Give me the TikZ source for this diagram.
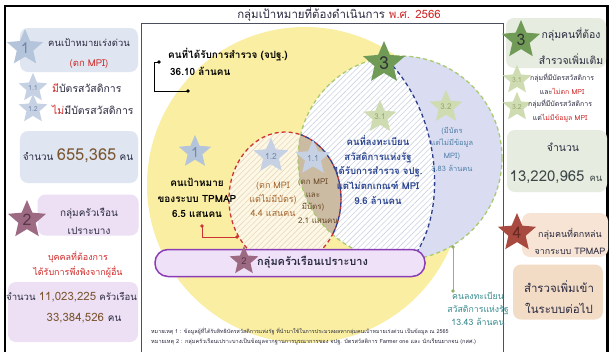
\documentclass[tikz,border=0pt]{standalone}
\usepackage{fontspec}
\setmainfont{Loma}[Script=Thai]
\usetikzlibrary{shapes.geometric,patterns.meta}
\newcommand\myfs[2]{\fontsize{#1}{#2}\selectfont}
\definecolor{yel}{HTML}{FAEEA2}
\definecolor{cream}{HTML}{FDF7E4}
\definecolor{hatchY}{HTML}{E4D9C0}
\definecolor{hatchB}{HTML}{CCD2E2}
\definecolor{lav}{HTML}{DADDF2}
\definecolor{tanc}{HTML}{CBBBA2}
\definecolor{gd}{HTML}{A9CB6E}
\definecolor{nd}{HTML}{2C3E8C}
\definecolor{rd}{HTML}{CC3333}
\definecolor{barfill}{HTML}{EFE1F7}
\definecolor{bardraw}{HTML}{8A3DB4}
\definecolor{framec}{HTML}{4A5060}
\definecolor{tred}{HTML}{D02A2A}
\definecolor{dtext}{HTML}{2A2A40}
\definecolor{navyt}{HTML}{2B4590}
\definecolor{brownt}{HTML}{A8672F}
\definecolor{dbrown}{HTML}{6A4A2A}
\definecolor{bluet}{HTML}{4F7FA8}
\definecolor{tealt}{HTML}{3A8C8F}
\definecolor{numbr}{HTML}{7A5530}
\definecolor{numgr}{HTML}{3D4747}
\definecolor{bluebox}{HTML}{DFE6F1}
\definecolor{lavbox}{HTML}{EDE0F4}
\definecolor{greenbox}{HTML}{E6ECDF}
\definecolor{peach}{HTML}{F7E4D4}
\definecolor{peach2}{HTML}{F3DCC6}
\definecolor{stblue}{HTML}{B4C4DA}
\definecolor{stbluel}{HTML}{C6D2E4}
\definecolor{stbluet}{HTML}{7488AA}
\definecolor{stgreen}{HTML}{709B57}
\definecolor{stgreenl}{HTML}{CFDCB2}
\definecolor{stgreent}{HTML}{98A86E}
\definecolor{stmauve}{HTML}{9D6A84}
\definecolor{stmauvet}{HTML}{5A3848}
\definecolor{stred}{HTML}{A84A40}
\definecolor{stredt}{HTML}{6B2A22}
\tikzset{
  tx/.style={inner sep=0pt, align=center},
  starn/.style={star, star points=5, star point ratio=2.2, inner sep=0pt, minimum size=#1, draw=none},
  boxn/.style={rounded corners=8bp, inner sep=0pt, draw=none},
  dotn/.style={circle, fill, inner sep=0pt, minimum size=3.6bp},
  gdash/.style={draw=gd, dash pattern=on 4bp off 3bp, line width=1.3bp},
  ndash/.style={draw=nd, dash pattern=on 4bp off 3bp, line width=1.3bp},
  rdash/.style={draw=rd, dash pattern=on 4bp off 3bp, line width=1.3bp},
  hatchfill/.style={pattern={Lines[angle=45,distance=4bp,line width=0.6bp]}, pattern color=#1},
}
\begin{document}
\begin{tikzpicture}[x=1bp,y=-1bp]
\useasboundingbox (0,0) rectangle (609,352);
\fill[white] (0,0) rectangle (609,352);

% ---------- frames ----------
\draw[line width=2.2bp] (5,352) -- (5,6) -- (607,6);
\draw[line width=3bp] (607,5) -- (607,352);
\draw[framec, line width=0.8bp] (141,352) -- (141,23) -- (503,23) -- (503,352);

% ---------- title ----------
\node[tx, anchor=east, font=\myfs{11.5}{13}, text=dtext] (title) at (441,14)
  {กลุ่มเป้าหมายที่ต้องดำเนินการ \textcolor{tred}{พ.ศ. 2566}};

% ---------- diagram ----------
\fill[yel] (305,185) circle [radius=158];
\fill[cream] (285,199) ellipse [x radius=56, y radius=67];
\fill[hatchfill=hatchY] (285,199) ellipse [x radius=56, y radius=67];
\fill[white] (400,158) circle [radius=102];
\fill[hatchfill=hatchB] (400,158) circle [radius=102];
\begin{scope}
  \clip (400,158) circle [radius=102];
  \fill[lav] (383,56) .. controls (440,108) and (450,210) .. (412,259) -- (505,262) -- (505,50) -- cycle;
\end{scope}
\begin{scope}
  \clip (285,199) ellipse [x radius=56, y radius=67];
  \fill[tanc] (400,158) circle [radius=102];
\end{scope}
\draw[gdash] (400,158) circle [radius=102];
\draw[ndash] (383,56) .. controls (440,108) and (450,210) .. (412,259);
\draw[rdash] (285,199) ellipse [x radius=56, y radius=67];
\begin{scope}
  \clip (400,158) circle [radius=102];
  \draw[ndash, dash phase=3.5bp] (285,199) ellipse [x radius=56, y radius=67];
\end{scope}

% stars in diagram
\node[starn=34bp, fill=stblue] (s1) at (195,152) {\myfs{14}{14}\color{stbluet}1};
\node[starn=30bp, fill=stbluel] (s12) at (271,156) {\myfs{8.5}{8}\color{stbluet}1.2};
\node[starn=30bp, fill=stbluel] (s11) at (313,158) {\myfs{8.5}{8}\color{stbluet}1.1};
\node[starn=44bp, fill=stgreen] (s3) at (384,63) {\myfs{18}{18}\color{black!80}3};
\node[starn=27bp, fill=stgreenl] (s31) at (380,117) {\myfs{8}{8}\color{stgreent}3.1};
\node[starn=27bp, fill=stgreenl] (s32) at (446,107) {\myfs{8}{8}\color{stgreent}3.2};

% texts in diagram
\node[tx, anchor=west, font=\myfs{10}{11}\bfseries] (t36a) at (168,55) {คนที่ได้รับการสำรวจ (จปฐ.)};
\node[tx, anchor=west, font=\myfs{10}{11}\bfseries] (t36b) at (170,71) {36.10 ล้านคน};
\node[tx, font=\myfs{10}{15.5}\bfseries] (t1) at (197,198) {คนเป้าหมาย\\ของระบบ TPMAP\\6.5 แสนคน};
\node[tx, font=\myfs{9}{14}, text=brownt] (t12) at (273,199) {(ตก MPI\\แต่ไม่มีบัตร)\\4.4 แสนคน};
\node[tx, font=\myfs{8}{12.5}, text=dbrown] (t11) at (313,195) {(ตก MPI\\และ\\มีบัตร)};
\node[tx, font=\myfs{8}{9}, text=dbrown] (t11b) at (318,221) {2.1 แสนคน};
\node[tx, font=\myfs{9.6}{14.8}\bfseries, text=navyt] (t31) at (378,170) {คนที่ลงทะเบียน\\สวัสดิการแห่งรัฐ\\ได้รับการสำรวจ จปฐ.\\แต่ไม่ตกเกณฑ์ MPI\\9.6 ล้านคน};
\node[tx, font=\myfs{7.5}{12.7}, text=bluet] (t32) at (452,149) {(มีบัตร\\แต่ไม่มีข้อมูล\\MPI)\\3.83 ล้านคน};
\node[tx, font=\myfs{8.8}{13.3}, text=tealt] (t13) at (478,309) {คนลงทะเบียน\\สวัสดิการแห่งรัฐ\\13.43 ล้านคน};

% connectors
\node[dotn] (k1) at (159,62) {};
\node[dotn] (k2) at (188,91) {};
\draw[line width=0.8bp] (k1.center) -- ++(-5,0) |- (k2.center);
\node[dotn, fill=rd] (r1) at (202,226) {};
\node[dotn, fill=rd] (r2) at (237,237) {};
\draw[rd, line width=0.9bp] (r1.center) |- (r2.center);
\node[dotn, fill=gd!80!black!90] (g1) at (453,247) {};
\node[dotn, fill=gd!80!black!90] (g2) at (453,291) {};
\draw[gd!90!black, line width=0.9bp] (g1.center) -- (g2.center);

% purple bar
\node[boxn, rounded corners=13bp, minimum width=270bp, minimum height=27bp, fill=barfill, draw=bardraw, line width=1.5bp] (bar) at (290,263) {};
\node[starn=30bp, fill=stmauve] (s2) at (244,261) {\myfs{9.5}{9}\color{stmauvet}2};
\node[tx, anchor=west, font=\myfs{11}{12}\bfseries, text=dtext] (tbar) at (257,262) {กลุ่มครัวเรือนเปราะบาง};

% footnotes
\node[tx, anchor=west, font=\myfs{5.4}{6}, text=dtext] (fn1) at (151,331) {หมายเหตุ 1 : ข้อมูลผู้ที่ได้รับสิทธิบัตรสวัสดิการแห่งรัฐ ที่นำมาใช้ในการประมวลผลหากลุ่มคนเป้าหมายเร่งด่วน เป็นข้อมูล ณ 2565};
\node[tx, anchor=west, font=\myfs{5.6}{6}, text=dtext] (fn2) at (151,342) {หมายเหตุ 2 : กลุ่มครัวเรือนเปราะบางเป็นข้อมูลจากฐานการบูรณาการของ จปฐ. บัตรสวัสดิการ Farmer one และ นักเรียนยากจน (กสศ.)};

% ---------- left panel ----------
\node[boxn, fill=bluebox, minimum width=118bp, minimum height=44bp] (b1) at (79,50) {};
\node[starn=38bp, fill=stblue] (L1) at (25,48) {\myfs{15}{15}\color{stbluet}1};
\node[tx, font=\myfs{9.5}{10}, text=dtext] (b1a) at (89,43) {คนเป้าหมายเร่งด่วน};
\node[tx, font=\myfs{9.5}{10}, text=tred] (b1b) at (89,64) {(ตก MPI)};
\node[starn=23bp, fill=stbluel] (L11) at (33,88) {\myfs{7}{7}\color{stbluet}1.1};
\node[tx, anchor=west, font=\myfs{10.5}{11}, text=dtext] (L11t) at (52,88) {\textcolor{tred}{มี}บัตรสวัสดิการ};
\node[starn=23bp, fill=stbluel] (L12) at (33,109) {\myfs{7}{7}\color{stbluet}1.2};
\node[tx, anchor=west, font=\myfs{10.5}{11}, text=dtext] (L12t) at (52,110) {\textcolor{tred}{ไม่}มีบัตรสวัสดิการ};
\node[boxn, fill=bluebox, minimum width=118bp, minimum height=52bp] (b1n) at (79,157) {};
\node[tx, font=\myfs{10}{10}, text=dtext] (b1nt) at (78,156) {จำนวน \textcolor{numbr}{\myfs{16.5}{16}655,365} คน};

\node[boxn, fill=lavbox, minimum width=101bp, minimum height=41bp] (b2) at (88,215) {};
\node[starn=40bp, fill=stmauve] (L2) at (27,220) {\myfs{16}{16}\color{stmauvet}2};
\node[tx, font=\myfs{10}{18}, text=dtext] (b2t) at (89,221) {กลุ่มครัวเรือน\\เปราะบาง};
\node[tx, font=\myfs{9}{15}, text=tred] (b2r) at (78,264.5) {บุคคลที่ต้องการ\\ได้รับการพึ่งพิงจากผู้อื่น};
\node[boxn, fill=lavbox, minimum width=130bp, minimum height=60bp] (b2n) at (73,312) {};
\node[tx, anchor=west, font=\myfs{9.6}{10}, text=dtext] (b2na) at (6,297) {จำนวน \textcolor{numbr}{\myfs{11.5}{11}11,023,225} ครัวเรือน};
\node[tx, font=\myfs{11.5}{11}, text=dtext] (b2nb) at (84,318) {\textcolor{numbr}{33,384,526} \myfs{10}{10}คน};

% ---------- right panel ----------
\node[boxn, fill=greenbox, minimum width=100bp, minimum height=50bp] (r3) at (556,43) {};
\node[starn=40bp, fill=stgreen] (R3) at (521,40) {\myfs{16}{16}\color{black!80}3};
\node[tx, font=\myfs{10.5}{26}, text=dtext] (r3t) at (571,46) {กลุ่มคนที่ต้อง\\สำรวจเพิ่มเติม};
\node[starn=23bp, fill=stgreenl] (R31) at (517,80) {\myfs{7}{7}\color{stgreent}3.1};
\node[tx, anchor=west, font=\myfs{7}{13.5}, text=dtext] (R31t) at (530,84) {กลุ่มที่มีบัตรสวัสดิการ\\และ\textcolor{tred}{ไม่ตก MPI}};
\node[starn=23bp, fill=stgreenl] (R32) at (517,107) {\myfs{7}{7}\color{stgreent}3.2};
\node[tx, anchor=west, font=\myfs{7}{13.5}, text=dtext] (R32t) at (528,111) {กลุ่มที่มีบัตรสวัสดิการ\\แต่\textcolor{tred}{ไม่มีข้อมูล MPI}};
\node[boxn, fill=greenbox, minimum width=100bp, minimum height=62bp] (r3n) at (557,161) {};
\node[tx, font=\myfs{10.5}{11}, text=dtext] (r3na) at (563,147) {จำนวน};
\node[tx, font=\myfs{15}{15}, text=numgr] (r3nb) at (556,177) {13,220,965 \myfs{9.5}{10}คน};

\node[boxn, fill=peach, minimum width=86bp, minimum height=44bp] (r4) at (565,235) {};
\node[starn=40bp, fill=stred] (R4) at (517,233) {\myfs{16}{16}\color{stredt}4};
\node[tx, font=\myfs{9}{17}, text=dtext] (r4t) at (570,241.5) {กลุ่มคนที่ตกหล่น\\จากระบบ TPMAP};
\node[boxn, fill=peach2, minimum width=90bp, minimum height=55bp] (r4b) at (558,292) {};
\node[tx, font=\myfs{11.5}{21}, text=dtext] (r4bt) at (559,297.5) {สำรวจเพิ่มเข้า\\ในระบบต่อไป};
\end{tikzpicture}
\end{document}
